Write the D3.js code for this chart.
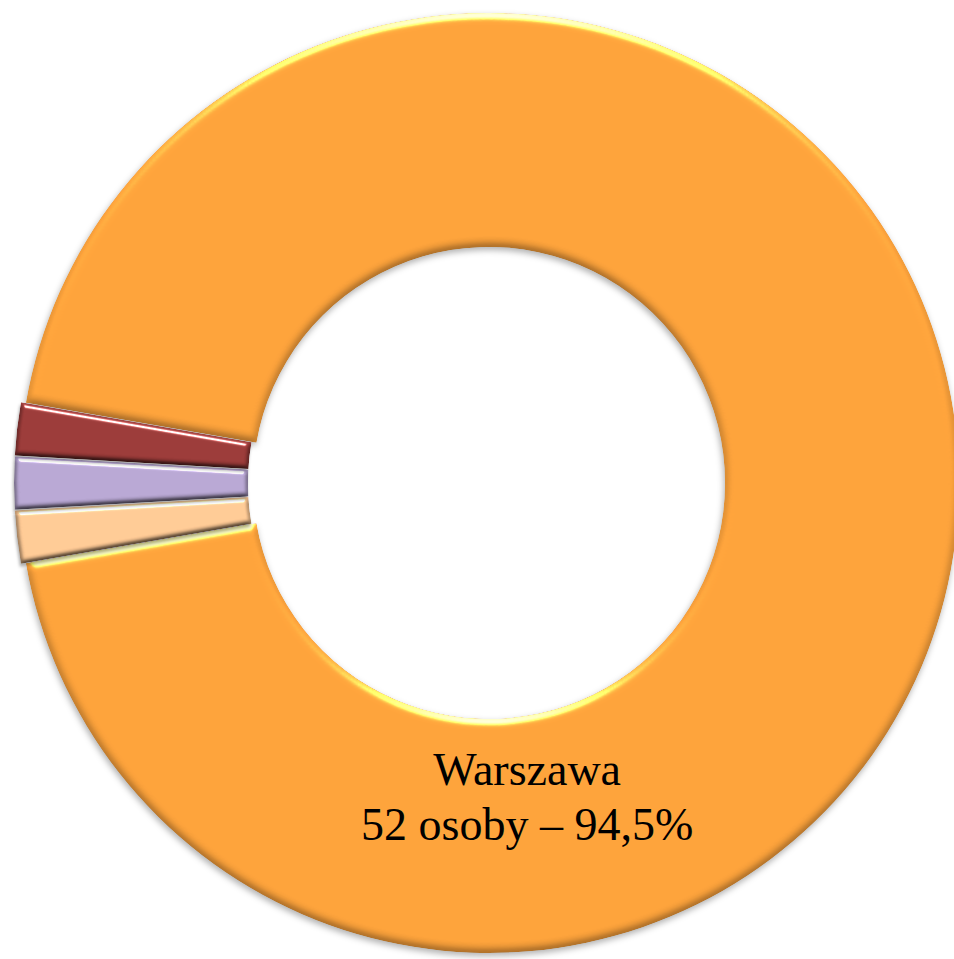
<!DOCTYPE html>
<meta charset="utf-8">
<style>
body { margin: 0; background: #fff; overflow: hidden; }
.label {
  font-family: "Liberation Serif", "Times New Roman", Tinos, serif;
  font-size: 46px;
  fill: #000;
  text-anchor: middle;
}
</style>
<svg width="954" height="959"></svg>
<script src="https://d3js.org/d3.v7.min.js"></script>
<script>

// data
var names = ["Warszawa", "Miasto 2", "Miasto 3", "Miasto 4"];
var counts = [52, 1, 1, 1];
var colors = ["#FCA23B", "#FFCA95", "#B8A7D3", "#9B3B39"];
var exploded = [0, 1, 1, 1];
var labelLines = ["Warszawa", "52 osoby – 94,5%"];

var svg = d3.select("svg"),
    cx = 489, cy = 483,
    outerR = 470, innerR = 236,
    explode = 5;

var total = d3.sum(counts),
    smallShare = (total - counts[0]) / total,
    // small slices centred on 9 o'clock
    a0 = 1.5 * Math.PI + smallShare * Math.PI;

var pie = d3.pie()
    .sort(null)
    .value(function(d) { return d; })
    .startAngle(a0)
    .endAngle(a0 + 2 * Math.PI);

var arc = d3.arc()
    .innerRadius(innerR)
    .outerRadius(outerR);

var defs = svg.append("defs");

function bevel(id, o) {
  var f = defs.append("filter")
      .attr("id", id)
      .attr("x", "-5%").attr("y", "-5%")
      .attr("width", "110%").attr("height", "112%")
      .attr("color-interpolation-filters", "sRGB");
  f.append("feGaussianBlur").attr("in", "SourceAlpha").attr("stdDeviation", o.blur).attr("result", "blur");
  f.append("feDiffuseLighting")
      .attr("in", "blur").attr("surfaceScale", o.scale)
      .attr("diffuseConstant", 1 / Math.sin(o.elev * Math.PI / 180))
      .attr("lighting-color", "#fff").attr("result", "diff")
    .append("feDistantLight").attr("azimuth", 270).attr("elevation", o.elev);
  f.append("feComposite").attr("in", "SourceGraphic").attr("in2", "diff")
      .attr("operator", "arithmetic").attr("k1", 1).attr("result", "shaded");
  f.append("feSpecularLighting")
      .attr("in", "blur").attr("surfaceScale", o.scale).attr("specularConstant", o.spec)
      .attr("specularExponent", 50).attr("lighting-color", o.glint).attr("result", "spec")
    .append("feDistantLight").attr("azimuth", 270).attr("elevation", 40);
  f.append("feComposite").attr("in", "spec").attr("in2", "SourceAlpha")
      .attr("operator", "in").attr("result", "specIn");
  f.append("feComposite").attr("in", "shaded").attr("in2", "specIn")
      .attr("operator", "arithmetic").attr("k2", 1).attr("k3", 1).attr("result", "lit");
  f.append("feComposite").attr("in", "lit").attr("in2", "SourceAlpha")
      .attr("operator", "in").attr("result", "litIn");
  // soft shadow underneath
  f.append("feGaussianBlur").attr("in", "SourceAlpha").attr("stdDeviation", o.shadow).attr("result", "sblur");
  f.append("feOffset").attr("in", "sblur").attr("dx", -1).attr("dy", 3).attr("result", "soff");
  f.append("feFlood").attr("flood-color", "#000").attr("flood-opacity", 0.3).attr("result", "scol");
  f.append("feComposite").attr("in", "scol").attr("in2", "soff").attr("operator", "in").attr("result", "shad");
  var m = f.append("feMerge");
  m.append("feMergeNode").attr("in", "shad");
  m.append("feMergeNode").attr("in", "litIn");
}

bevel("bevelBig", { blur: 4, scale: 3, elev: 70, spec: 1.3, glint: "#ffe27a", shadow: 3 });
bevel("bevelSmall", { blur: 2.5, scale: 3.5, elev: 65, spec: 1.1, glint: "#ffffff", shadow: 1.5 });

var g = svg.append("g").attr("transform", "translate(" + cx + "," + cy + ")");

var arcs = pie(counts);

g.selectAll("path.slice")
  .data(arcs)
  .enter().append("path")
    .attr("class", "slice")
    .attr("d", arc)
    .attr("fill", function(d, i) { return colors[i]; })
    .attr("filter", function(d, i) { return exploded[i] ? "url(#bevelSmall)" : "url(#bevelBig)"; })
    .attr("transform", function(d, i) {
      var mid = (d.startAngle + d.endAngle) / 2,
          e = exploded[i] * explode;
      return "translate(" + (Math.sin(mid) * e) + "," + (-Math.cos(mid) * e) + ")";
    });

// label of the big slice, placed below the hole
var labelAngle = 172.8 * Math.PI / 180,
    labelR = 304,
    lineGap = 55;

var label = g.append("text")
    .attr("class", "label")
    .attr("font-family", "Liberation Serif, serif")
    .attr("transform", "translate(" + (Math.sin(labelAngle) * labelR) + "," + (-Math.cos(labelAngle) * labelR) + ")");

label.selectAll("tspan")
  .data(labelLines)
  .enter().append("tspan")
    .attr("x", 0)
    .attr("y", function(d, i) { return i * lineGap; })
    .text(function(d) { return d; });

</script>
